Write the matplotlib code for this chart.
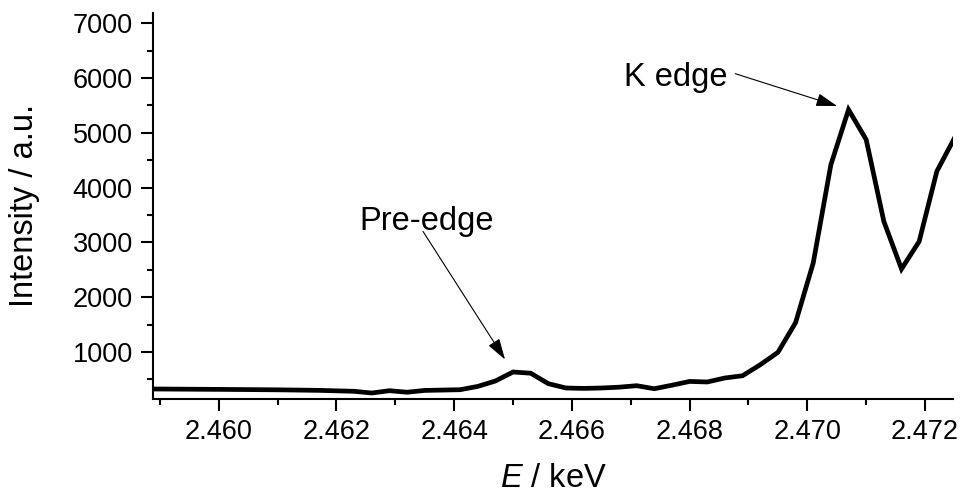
import matplotlib
matplotlib.use('Agg')
import matplotlib.pyplot as plt
from matplotlib.ticker import MultipleLocator

plt.rcParams['font.family'] = ['Liberation Sans', 'DejaVu Sans']
plt.rcParams['mathtext.fontset'] = 'custom'
plt.rcParams['mathtext.rm'] = 'Liberation Sans'
plt.rcParams['mathtext.it'] = 'Liberation Sans:italic'

# S K-edge XANES scan (energy in keV, intensity in a.u.)
energy = [2.4589, 2.4600, 2.4610, 2.4617, 2.4623, 2.4626, 2.4629, 2.4632,
          2.4635, 2.4641, 2.4644, 2.4647, 2.4650, 2.4653, 2.4656, 2.4659,
          2.4662, 2.4665, 2.4668, 2.4671, 2.4674, 2.4677, 2.4680, 2.4683,
          2.4686, 2.4689, 2.4692, 2.4695, 2.4698, 2.4701, 2.4704, 2.4707,
          2.4710, 2.4713, 2.4716, 2.4719, 2.4722, 2.4725]
intensity = [325, 318, 310, 300, 283, 252, 294, 266,
             299, 312, 372, 471, 635, 613, 422, 343,
             336, 343, 358, 385, 330, 394, 463, 453,
             526, 567, 768, 993, 1535, 2624, 4418, 5422,
             4875, 3383, 2515, 3018, 4296, 4905]

xticks = [2.460, 2.462, 2.464, 2.466, 2.468, 2.470, 2.472]
yticks = [1000, 2000, 3000, 4000, 5000, 6000, 7000]

pre_edge_idx = intensity.index(max(intensity[:20]))
k_edge_idx = intensity.index(max(intensity))

fig = plt.figure(figsize=(9.61, 4.95), dpi=100)
ax = fig.add_axes([0.159, 0.194, 0.833, 0.780])

ax.plot(energy, intensity, color='black', lw=3.4, solid_joinstyle='miter')

ax.set_xlim(2.45888, 2.47248)
ax.set_ylim(143, 7188)
ax.set_xticks(xticks)
ax.set_xticklabels(['%.3f' % t for t in xticks])
ax.set_yticks(yticks)
ax.xaxis.set_minor_locator(MultipleLocator(0.001))
ax.yaxis.set_minor_locator(MultipleLocator(500))

for side in ['top', 'right']:
    ax.spines[side].set_visible(False)
for side in ['left', 'bottom']:
    ax.spines[side].set_linewidth(1.5)
ax.tick_params(which='major', length=8.5, width=1.5, labelsize=19.5, pad=6)
ax.tick_params(which='minor', length=4.5, width=1.5)

ax.set_xlabel('$E$ / keV', fontsize=23.5, labelpad=13)
ax.set_ylabel('Intensity / a.u.', fontsize=23.5, labelpad=23)

arrow = dict(arrowstyle='-|>,head_length=0.65,head_width=0.2', color='black',
             lw=0.8, mutation_scale=20, shrinkA=0)

# pre-edge feature
pre = (energy[pre_edge_idx], intensity[pre_edge_idx])
ax.annotate('', xy=pre, xytext=(-64.8, 101.2), textcoords='offset points',
            arrowprops=dict(arrow, shrinkB=10.7))
ax.annotate('Pre-edge', xy=pre, xytext=(-110.4, 102), textcoords='offset points',
            fontsize=23.5, ha='left', va='baseline')

# main absorption edge
kpk = (energy[k_edge_idx], intensity[k_edge_idx])
ax.annotate('', xy=kpk, xytext=(-81.6, 25.9), textcoords='offset points',
            arrowprops=dict(arrow, shrinkB=8.6))
ax.annotate('K edge', xy=kpk, xytext=(-161.5, 16.8), textcoords='offset points',
            fontsize=23.5, ha='left', va='baseline')

fig.savefig('out.png', dpi=100)
